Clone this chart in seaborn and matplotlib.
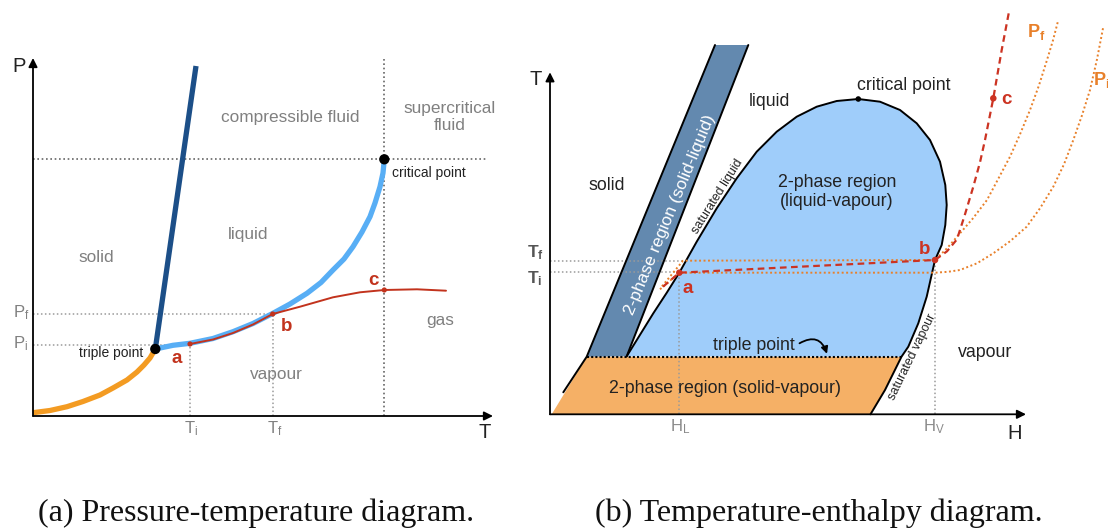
import matplotlib
matplotlib.use("Agg")
import matplotlib.pyplot as plt
import seaborn as sns

# ---------------- Panel (a): pressure-temperature diagram (arbitrary units) ----------------
SUB_T = [0, 17, 34, 50, 67, 80, 94, 104, 111, 117, 122.3]          # sublimation curve
SUB_P = [3.3, 5.5, 9.3, 14.5, 21, 28, 36, 44, 51, 58, 67]
VAP_T = [122.3, 140, 157, 180, 200, 220, 240, 257, 274, 288, 300, 311, 320, 329, 337, 342, 347, 350, 351.3]
VAP_P = [67, 70.7, 72.7, 77.5, 84.3, 92.5, 102.7, 112, 122.7, 133.5, 146, 157, 169.3, 184, 199.3, 213, 229.3, 243, 256.7]
MELT_T = [122.3, 163]
MELT_P = [67, 350]
PATH_T = [157, 180, 200, 220, 239.7, 267, 300, 327, 351.3, 384, 413]   # process a-b-c
PATH_P = [72, 76.5, 83, 91.5, 102, 109.3, 118.7, 123.7, 126, 126.7, 125.3]
TRIPLE_A = (122.3, 67)
CRIT_A = (351.3, 256.7)
STATE_T = [157, 239.7, 351.3]
STATE_P = [72, 102, 126]
A_TICK_T = [157, 239.7]       # T_i, T_f
A_TICK_P = [71.3, 102]        # P_i, P_f

# ---------------- Panel (b): temperature-enthalpy diagram (arbitrary units) ----------------
DOME_H = [76.7, 90, 103.3, 116.7, 129.3, 146.7, 166.7, 186.7, 206.7, 226.7, 246.7, 266.7, 286.7, 308.3,
          330, 350, 366.7, 380, 390, 395.3, 396.7, 395.3, 391.7, 385, 376.7, 368.3, 358.3, 351.5, 335, 320.5]
DOME_T = [58, 79.5, 101, 121.5, 141.6, 172.6, 206, 236, 262.6, 282.6, 297.6, 307.6, 313.3, 315.3,
          312.6, 304.3, 291, 274.3, 252.6, 229.3, 209.3, 189.3, 169.3, 154.3, 117.6, 91, 67.6, 57.6, 24.3, 0]
T_TRIPLE = 57.6
BAND_L_H = [13.3, 36.7, 165]
BAND_L_T = [22, 57.6, 369.3]
BAND_R_H = [76.7, 198.3]
BAND_R_T = [58, 369.3]
SV_H = [1.7, 36.7, 351.5, 335, 320.5]      # solid-vapour region outline
SV_T = [0, 57.6, 57.6, 24.3, 0]
CRIT_B = (308.3, 315.3)
PF_H = [112, 133, 385, 397, 410, 423, 437, 448, 460, 470, 480, 489, 497, 503, 508.3]
PF_T = [128, 153.6, 154.3, 166, 181, 196, 214.3, 235, 257.6, 280, 304.3, 329, 354.3, 374, 394.3]
PI_H = [110, 129.3, 385, 398, 410, 427, 443.3, 460, 476.7, 490, 503.3, 514, 523.3, 532, 540, 547, 553.3]
PI_T = [125, 141.6, 141.6, 142.5, 144.3, 151, 161, 173, 187.6, 206, 227.6, 250, 274.3, 299, 324.3, 355, 387.6]
RED_H = [113, 129.3, 385, 397, 407, 415, 423.3, 430, 435, 443.3, 451.7, 459]
RED_T = [127.6, 141.6, 154.3, 163, 175, 200, 227.6, 252, 274.3, 316, 364.3, 402.6]
STATE_H = [129.3, 385, 443.3]
STATE_TB = [141.6, 154.3, 316]
B_TICK_H = [129.3, 385]       # H_L, H_V
B_TICK_T = [142, 153.6]       # T_i, T_f

sns.set_theme(style="white")
plt.rcParams['font.family'] = ['Liberation Sans', 'DejaVu Sans']
plt.rcParams['mathtext.fontset'] = 'custom'
plt.rcParams['mathtext.rm'] = 'Liberation Sans'
plt.rcParams['mathtext.it'] = 'Liberation Sans'
plt.rcParams['mathtext.bf'] = 'Liberation Sans:bold'

W, H = 1108, 528
fig = plt.figure(figsize=(W / 100, H / 100), dpi=100)
fig.patch.set_facecolor('white')
axA = fig.add_axes([0, 48 / H, 554 / W, 480 / H])
axA.set_xlim(-33, 521); axA.set_ylim(-64, 416)
axB = fig.add_axes([520 / W, 48 / H, 588 / W, 480 / H])
axB.set_xlim(-30, 558); axB.set_ylim(-65.7, 414.3)
for ax in (axA, axB):
    ax.axis('off')
    ax.patch.set_alpha(0)


def line(ax, x, y, **kw):
    sns.lineplot(x=list(x), y=list(y), ax=ax, sort=False, estimator=None, legend=False, **kw)


def dots(ax, x, y, s, color, z=10):
    sns.scatterplot(x=list(x), y=list(y), ax=ax, s=s, color=color, edgecolor='none', zorder=z, legend=False)


GREY = '#808080'
DOT = (0, (1, 1.6))

# ================= Panel (a) =================
line(axA, [0, 454], [CRIT_A[1], CRIT_A[1]], color='#666666', linewidth=1.2, linestyle=DOT)
line(axA, [CRIT_A[0], CRIT_A[0]], [0, 359], color='#666666', linewidth=1.2, linestyle=DOT)
for t, p in zip(A_TICK_T, A_TICK_P):
    line(axA, [0, t], [p, p], color='#9a9a9a', linewidth=1.1, linestyle=DOT)
    line(axA, [t, t], [0, p], color='#9a9a9a', linewidth=1.1, linestyle=DOT)

line(axA, SUB_T, SUB_P, color='#f39b22', linewidth=3.8, solid_capstyle='butt')
line(axA, VAP_T, VAP_P, color='#58aef5', linewidth=3.8, solid_capstyle='butt')
line(axA, MELT_T, MELT_P, color='#1c4f88', linewidth=3.8, solid_capstyle='butt')
line(axA, PATH_T, PATH_P, color='#c2331d', linewidth=1.4)
dots(axA, STATE_T, STATE_P, 14, '#c2331d', z=11)
dots(axA, [TRIPLE_A[0], CRIT_A[0]], [TRIPLE_A[1], CRIT_A[1]], 55, 'black', z=12)

arrow = dict(arrowstyle='-|>', color='black', lw=1.3, mutation_scale=13, shrinkA=0, shrinkB=0)
axA.annotate('', xy=(0, 358), xytext=(0, 0), arrowprops=arrow)
axA.annotate('', xy=(460, 0), xytext=(0, 0), arrowprops=arrow)

axA.text(-14, 349, 'P', fontsize=14.5, color='#222222', ha='center', va='center')
axA.text(452, -17, 'T', fontsize=14.5, color='#222222', ha='center', va='center')
axA.text(-12, 103.5, r'P$_\mathregular{f}$', fontsize=12, color=GREY, ha='center', va='center')
axA.text(-12, 72, r'P$_\mathregular{i}$', fontsize=12, color=GREY, ha='center', va='center')
axA.text(158, -12.5, r'T$_\mathregular{i}$', fontsize=12, color=GREY, ha='center', va='center')
axA.text(242, -12.5, r'T$_\mathregular{f}$', fontsize=12, color=GREY, ha='center', va='center')

for txt, x, y in [('solid', 63, 158.7), ('liquid', 214.7, 182), ('compressible fluid', 257.7, 298.7),
                  ('gas', 407, 96), ('vapour', 243, 41)]:
    axA.text(x, y, txt, fontsize=12.4, color=GREY, ha='center', va='center')
axA.text(417, 299.3, 'supercritical\nfluid', fontsize=12.4, color=GREY, ha='center', va='center',
         linespacing=1.15)
axA.text(358.7, 242.7, 'critical point', fontsize=10, color='#222222', ha='left', va='center')
axA.text(77.7, 62.7, 'triple point', fontsize=10, color='#222222', ha='center', va='center')
for txt, x, y in [('a', 143.7, 57.7), ('b', 253.7, 89.3), ('c', 340.3, 135.3)]:
    axA.text(x, y, txt, fontsize=13.5, color='#c2331d', fontweight='bold', ha='center', va='center')

# ================= Panel (b) =================
n_fill = DOME_T.index(T_TRIPLE) + 1
axB.fill(SV_H, SV_T, color='#f5b066', lw=0, zorder=1)
axB.fill(DOME_H[:n_fill], DOME_T[:n_fill], color='#9fcdfa', lw=0, zorder=1)
axB.fill([BAND_L_H[1], BAND_L_H[2], BAND_R_H[1], BAND_R_H[0]],
         [BAND_L_T[1], BAND_L_T[2], BAND_R_T[1], BAND_R_T[0]], color='#6389af', lw=0, zorder=1)

line(axB, DOME_H, DOME_T, color='black', linewidth=1.4, zorder=3)
line(axB, BAND_L_H, BAND_L_T, color='black', linewidth=1.4, zorder=3)
line(axB, BAND_R_H, BAND_R_T, color='black', linewidth=1.4, zorder=3)
line(axB, [BAND_L_H[1], 351.5], [T_TRIPLE, T_TRIPLE], color='black', linewidth=1.5,
     linestyle=(0, (1, 1)), zorder=3)

line(axB, [0, B_TICK_H[0] + 4], [B_TICK_T[1], B_TICK_T[1]], color='#9a9a9a', linewidth=1.1, linestyle=DOT, zorder=2)
line(axB, [0, B_TICK_H[0]], [B_TICK_T[0], B_TICK_T[0]], color='#9a9a9a', linewidth=1.1, linestyle=DOT, zorder=2)
line(axB, [B_TICK_H[0], B_TICK_H[0]], [0, B_TICK_T[0]], color='#9a9a9a', linewidth=1.1, linestyle=DOT, zorder=2)
line(axB, [B_TICK_H[1], B_TICK_H[1]], [0, B_TICK_T[1]], color='#9a9a9a', linewidth=1.1, linestyle=DOT, zorder=2)

line(axB, PF_H, PF_T, color='#e8802a', linewidth=1.4, linestyle=(0, (1, 1.3)), zorder=4)
line(axB, PI_H, PI_T, color='#e8802a', linewidth=1.4, linestyle=(0, (1, 1.3)), zorder=4)
line(axB, RED_H, RED_T, color='#cc3322', linewidth=1.6, linestyle=(0, (3, 2)), zorder=5)
dots(axB, STATE_H, STATE_TB, 22, '#cc3322', z=11)
dots(axB, [CRIT_B[0]], [CRIT_B[1]], 16, 'black', z=11)

axB.annotate('', xy=(0, 342), xytext=(0, 0), arrowprops=arrow)
axB.annotate('', xy=(476, 0), xytext=(0, 0), arrowprops=arrow)
axB.annotate('', xy=(277, 60.5), xytext=(249.5, 71),
             arrowprops=dict(arrowstyle='-|>', color='black', lw=1.3, mutation_scale=10,
                             shrinkA=0, shrinkB=0, connectionstyle='arc3,rad=-0.6'), zorder=6)

axB.text(-14, 335, 'T', fontsize=14.5, color='#222222', ha='center', va='center')
axB.text(465, -19, 'H', fontsize=14.5, color='#222222', ha='center', va='center')
axB.text(-15, 161.6, r'$\mathbf{T_f}$', fontsize=12.5, color='#555555', ha='center', va='center')
axB.text(-15, 136, r'$\mathbf{T_i}$', fontsize=12.5, color='#555555', ha='center', va='center')
axB.text(130, -12.4, r'H$_\mathregular{L}$', fontsize=12, color='#8a8a8a', ha='center', va='center')
axB.text(384.3, -12.4, r'H$_\mathregular{V}$', fontsize=12, color='#8a8a8a', ha='center', va='center')

DARK = '#222222'
for txt, x, y in [('solid', 56.7, 229.3), ('liquid', 219.3, 312.6), ('vapour', 435, 62),
                  ('critical point', 353.3, 329.3), ('2-phase region\n(liquid-vapour)', 286.7, 222.6),
                  ('2-phase region (solid-vapour)', 175, 26), ('triple point', 204, 69.3)]:
    axB.text(x, y, txt, fontsize=12.8, color=DARK, ha='center', va='center', linespacing=1.15, zorder=7)
axB.text(120, 199.3, '2-phase region (solid-liquid)', fontsize=12.5, color='white', rotation=67.6,
         rotation_mode='anchor', ha='center', va='center', zorder=7)
axB.text(167.5, 217.5, 'saturated liquid', fontsize=9, color=DARK, rotation=58,
         rotation_mode='anchor', ha='center', va='center', zorder=7)
axB.text(362, 57.5, 'saturated vapour', fontsize=9, color=DARK, rotation=64,
         rotation_mode='anchor', ha='center', va='center', zorder=7)
for txt, x, y in [('a', 137.3, 126), ('b', 375, 164.3), ('c', 456.7, 314.3)]:
    axB.text(x, y, txt, fontsize=13.5, color='#cc3322', fontweight='bold', ha='center', va='center', zorder=7)
axB.text(486.7, 382.6, r'$\mathbf{P_f}$', fontsize=13, color='#e8802a', ha='center', va='center')
axB.text(543, 334.3, r'$\mathbf{P_i}$', fontsize=13, color='#e8802a', ha='left', va='center')

fig.text(256 / W, 1 - 521.5 / H, '(a) Pressure-temperature diagram.', ha='center', va='baseline',
         family='Liberation Serif', fontsize=23, color='#111111')
fig.text(819 / W, 1 - 521.5 / H, '(b) Temperature-enthalpy diagram.', ha='center', va='baseline',
         family='Liberation Serif', fontsize=23, color='#111111')

fig.savefig('out.png', dpi=100, facecolor='white')
